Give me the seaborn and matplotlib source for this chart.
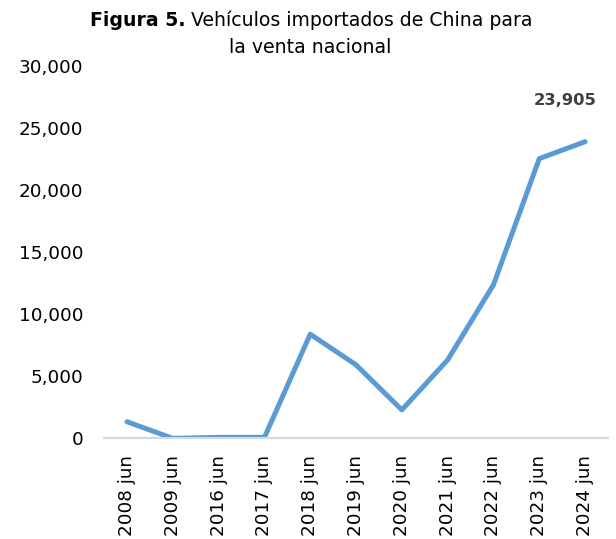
import matplotlib
matplotlib.use("Agg")
import matplotlib.pyplot as plt
import seaborn as sns
import pandas as pd

# valores
periodos = ["2008 jun", "2009 jun", "2016 jun", "2017 jun", "2018 jun", "2019 jun",
            "2020 jun", "2021 jun", "2022 jun", "2023 jun", "2024 jun"]
vehiculos = [1350, 10, 90, 90, 8400, 5930, 2300, 6330, 12380, 22540, 23905]

df = pd.DataFrame({"periodo": periodos, "vehiculos": vehiculos})

sns.set_theme(style="white")
plt.rcParams["font.family"] = ["DejaVu Sans"]
plt.rcParams["text.color"] = "black"

fig = plt.figure(figsize=(6.16, 5.39), dpi=100)
ax = fig.add_axes([0.169, 0.1865, 0.818, 0.691])

sns.lineplot(data=df, x="periodo", y="vehiculos", sort=False, ax=ax,
             color="#5B9BD5", linewidth=3.6, solid_capstyle="round",
             solid_joinstyle="round")

ax.set_xlim(-0.5, len(periodos) - 0.5)
ax.set_ylim(0, 30000)
ax.set_yticks(range(0, 30001, 5000))
ax.yaxis.set_major_formatter(matplotlib.ticker.FuncFormatter(lambda v, p: f"{int(v):,}"))
ax.tick_params(axis="both", length=0, labelsize=13.2, colors="black")
ax.tick_params(axis="y", pad=15)
ax.tick_params(axis="x", rotation=90, pad=12)
ax.set_xlabel("")
ax.set_ylabel("")

for s in ["top", "right", "left"]:
    ax.spines[s].set_visible(False)
ax.spines["bottom"].set_color("#D9D9D9")
ax.spines["bottom"].set_linewidth(1.5)

# etiqueta del último valor
ax.annotate(f"{vehiculos[-1]:,}", xy=(len(periodos) - 1, vehiculos[-1]),
            xytext=(-14, 24), textcoords="offset points", ha="center", va="bottom",
            fontsize=11.8, fontweight="bold", color="#404040")

# título con parte en negrita
fig.canvas.draw()
r = fig.canvas.get_renderer()
t1 = fig.text(0, 0.962, "Figura 5.", fontsize=13.6, fontweight="bold", va="center")
t2 = fig.text(0, 0.962, " Vehículos importados de China para", fontsize=13.6, va="center")
w1 = t1.get_window_extent(r).width / fig.bbox.width
w2 = t2.get_window_extent(r).width / fig.bbox.width
x0 = 0.505 - (w1 + w2) / 2
t1.set_x(x0)
t2.set_x(x0 + w1)
fig.text(0.503, 0.912, "la venta nacional", fontsize=13.6, ha="center", va="center")

fig.savefig("out.png", dpi=100)
